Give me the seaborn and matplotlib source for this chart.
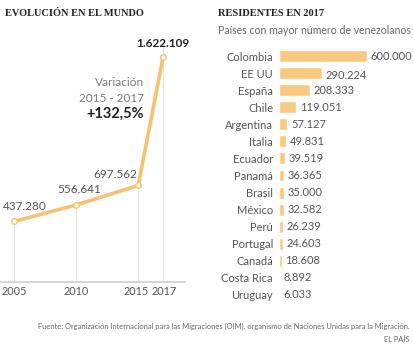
import matplotlib
matplotlib.use("Agg")
import matplotlib.pyplot as plt
import matplotlib.transforms as mtransforms
import seaborn as sns
import pandas as pd

sns.set_theme(style="white")
plt.rcParams['font.family'] = ['Lato', 'DejaVu Sans']

# ---- data ----
years = [2005, 2010, 2015, 2017]
world_values = [437280, 556641, 697562, 1622109]
world_labels = ["437.280", "556.641", "697.562", "1.622.109"]

countries = ["Colombia", "EE UU", "España", "Chile", "Argentina", "Italia", "Ecuador",
             "Panamá", "Brasil", "México", "Perú", "Portugal", "Canadá", "Costa Rica", "Uruguay"]
residents = [600000, 290224, 208333, 119051, 57127, 49831, 39519,
             36365, 35000, 32582, 26239, 24603, 18608, 8892, 6033]
resident_labels = ["600.000", "290.224", "208.333", "119.051", "57.127", "49.831", "39.519",
                   "36.365", "35.000", "32.582", "26.239", "24.603", "18.608", "8.892", "6.033"]

ORANGE = "#f5c270"
BAR = "#f8c97e"
GRAY = "#555555"

W, H = 414, 357
fig = plt.figure(figsize=(W / 100, H / 100), dpi=100)

def fx(px):
    return px / W

def fy(py):
    return 1 - py / H

# ---- line chart ----
ax1 = fig.add_axes([0, fy(282), fx(185), fy(30) - fy(282)])
df_line = pd.DataFrame({"year": years, "value": world_values})
ax1.vlines(years, 0, world_values, color="#e3e3e3", lw=0.8, zorder=1)
ax1.vlines([2017], 0, 1750000, color="#e3e3e3", lw=0.8, zorder=1)
sns.lineplot(data=df_line, x="year", y="value", ax=ax1, color=ORANGE, lw=2.6,
             marker="o", markersize=4, markerfacecolor="white",
             markeredgecolor=ORANGE, markeredgewidth=1.0, zorder=3)
ax1.set_xlim(2003.87, 2018.77)
ax1.set_ylim(0, 1820800)
ax1.set_xticks(years)
ax1.set_xticklabels([str(y) for y in years], fontsize=7.8, color=GRAY)
ax1.tick_params(axis="x", length=0, pad=3)
shifts = [0, 0, -2.5, 1.5]
for lab, dx in zip(ax1.get_xticklabels(), shifts):
    lab.set_transform(lab.get_transform() +
                      mtransforms.ScaledTranslation(dx / 100, 0, fig.dpi_scale_trans))
ax1.set_yticks([])
ax1.set_xlabel("")
ax1.set_ylabel("")
for s in ["top", "right", "left"]:
    ax1.spines[s].set_visible(False)
ax1.spines["bottom"].set_color("#d0d0d0")
ax1.spines["bottom"].set_linewidth(1.2)
ax1.patch.set_alpha(0)

ax1.annotate(world_labels[0], (years[0], world_values[0]), xytext=(-8, 7),
             textcoords="offset points", ha="left", va="bottom", fontsize=8.5, color=GRAY)
ax1.annotate(world_labels[1], (years[1], world_values[1]), xytext=(2, 7),
             textcoords="offset points", ha="center", va="bottom", fontsize=8.5, color=GRAY)
ax1.annotate(world_labels[2], (years[2], world_values[2]), xytext=(-1, 4),
             textcoords="offset points", ha="right", va="bottom", fontsize=8.5, color=GRAY)
ax1.annotate(world_labels[3], (years[3], world_values[3]), xytext=(0, 6),
             textcoords="offset points", ha="center", va="bottom", fontsize=8.5,
             color="#222222", fontweight="bold")

fig.text(fx(144), fy(83), "Variación", ha="right", va="center", fontsize=8.5, color="#7a7a7a")
fig.text(fx(144), fy(98), "2015 - 2017", ha="right", va="center", fontsize=8.5, color="#7a7a7a")
fig.text(fx(144), fy(114), "+132,5%", ha="right", va="center", fontsize=10.5,
         color="#222222", fontweight="bold")

fig.text(fx(5), fy(14), "EVOLUCIÓN EN EL MUNDO", ha="left", va="center", fontsize=7.5,
         fontweight="bold", color="#222222", family=["Liberation Serif", "DejaVu Serif"])

# ---- bar chart ----
ax2 = fig.add_axes([fx(279), fy(303.5), fx(135), fy(47.5) - fy(303.5)])
df_bar = pd.DataFrame({"country": countries, "value": residents})
sns.barplot(data=df_bar, y="country", x="value", ax=ax2, color=BAR, width=0.7,
            saturation=1, orient="h")
ax2.set_xlim(0, 600000 * 135 / 88)
ax2.set_ylim(14.5, -0.5)
ax2.set_xticks([])
ax2.set_xlabel("")
ax2.set_ylabel("")
ax2.tick_params(axis="y", length=0, pad=4.3, labelsize=8, labelcolor=GRAY)
for s in ax2.spines.values():
    s.set_visible(False)
ax2.patch.set_alpha(0)
for i, (v, lab) in enumerate(zip(residents, resident_labels)):
    dy = 2 if i == 1 else 0
    ax2.annotate(lab, (v, i), xytext=(2.5, -dy), textcoords="offset points",
                 ha="left", va="center", fontsize=8, color=GRAY)

fig.text(fx(218), fy(14), "RESIDENTES EN 2017", ha="left", va="center", fontsize=7.5,
         fontweight="bold", color="#222222", family=["Liberation Serif", "DejaVu Serif"])
fig.text(fx(218), fy(31), "Países con mayor número de venezolanos", ha="left", va="center",
         fontsize=7.6, color="#666666")

# ---- footer ----
fig.text(fx(410), fy(326), "Fuente: Organización Internacional para las Migraciones (OIM), "
         "organismo de Naciones Unidas para la Migración.", ha="right", va="center",
         fontsize=5.4, color="#666666")
fig.text(fx(410), fy(339), "EL PAÍS", ha="right", va="center", fontsize=5.4, color="#666666")

fig.savefig("out.png", dpi=100, facecolor="white")
